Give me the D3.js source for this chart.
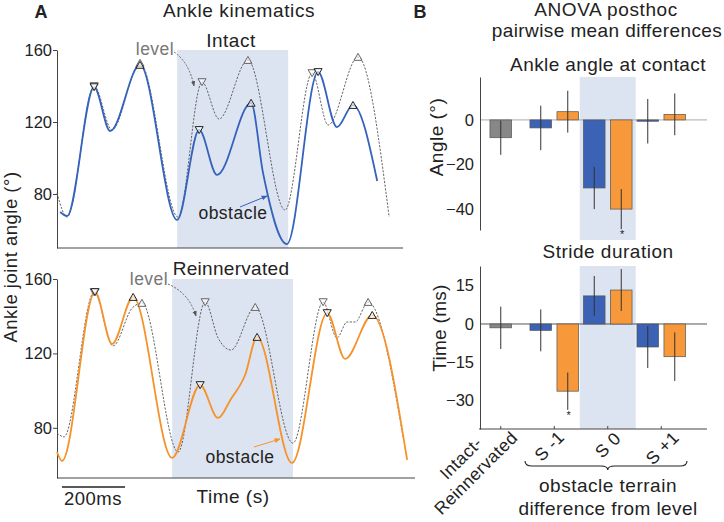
<!DOCTYPE html>
<html><head><meta charset="utf-8">
<script src="https://cdn.jsdelivr.net/npm/d3@7"></script>
<style>
body{margin:0;background:#fff}
svg{display:block;font-family:"Liberation Sans",Arial,Helvetica,sans-serif}
</style>
</head><body><svg id="c" width="724" height="522"></svg>
<script>
// ---------- DATA ----------
// Panel A: ankle joint angle (deg) vs time (ms)
const intactLevelTime  = [0, 32, 118, 175, 264, 385, 461, 515, 607, 725, 811, 862, 957, 1056];
const intactLevelAngle = [80.6, 67.2, 140, 115.6, 152.8, 67.2, 142.2, 121.7, 154.4, 71.1, 147.2, 118.3, 156.1, 67.2];
const intactObstTime   = [10, 32, 118, 169, 264, 382, 452, 509, 617, 655, 731, 830, 890, 941, 1018];
const intactObstAngle  = [70, 67.8, 139.4, 115, 151.7, 65.6, 115.6, 90.6, 130.6, 91.7, 52.2, 147.8, 117.2, 129.4, 87.2];
const reinLevelTime    = [0, 22, 118, 178, 239, 270, 385, 471, 512, 553, 630, 750, 846, 890, 922, 948, 989, 1100];
const reinLevelAngle   = [77.2, 75.1, 153, 124, 144.4, 147.1, 67, 147.6, 128.3, 121.8, 144.9, 71.8, 147.6, 128.3, 136.9, 136.9, 147.6, 75.1];
const reinObstTime     = [0, 16, 121, 175, 242, 366, 455, 512, 553, 598, 636, 747, 859, 916, 1002, 1113];
const reinObstAngle    = [67, 62.2, 153, 125.1, 150.3, 63.8, 103, 85.3, 95.5, 108.4, 128.8, 61.1, 141.7, 117, 140.6, 62.7];
// event markers (indices into series): contact (down triangle), peak (up triangle)
const intactLevelDown = [2, 6, 10],  intactLevelUp = [4, 8, 12];
const intactObstDown  = [2, 6, 11],  intactObstUp  = [4, 8, 13];
const reinLevelDown   = [2, 7, 12],  reinLevelUp   = [5, 10, 16];
const reinObstDown    = [2, 6, 12],  reinObstUp    = [4, 10, 14];
const intactObstacleWindow = [382, 735];
const reinObstacleWindow   = [366, 750];
const angleTicks = [80, 120, 160];

// Panel B: pairwise mean differences
const groups = ["Intact-Reinnervated", "S -1", "S 0", "S +1"];
const terrainGroups = ["S -1", "S 0", "S +1"];
const angleIntactRein = -8.0,  angleIntactReinErr = 7.7;
const angleIntactDiff = [-3.6, -30.6, -0.6], angleIntactErr = [10, 9.5, 10];
const angleReinDiff   = [3.7, -40.1, 2.5],   angleReinErr   = [9.4, 9, 9.4];
const angleSig        = [false, true, false];
const durIntactRein = -1.5, durIntactReinErr = 8.3;
const durIntactDiff = [-2.5, 11, -9],     durIntactErr = [8.2, 7.8, 8.2];
const durReinDiff   = [-26.3, 13.3, -12.8], durReinErr = [7.3, 8.2, 9.5];
const durSig        = [true, false, false];
const angleBarTicks = [0, -20, -40];
const durBarTicks   = [15, 0, -15, -30];

// ---------- STYLE ----------
const C = {
  blue: "#3462bd", orange: "#f5922a", grey: "#555",
  barBlue: "#3b62b5", barOrange: "#f7983a", barGrey: "#878787",
  shade: "#dde4f1", text: "#222", axis: "#444"
};
const svg = d3.select("#c");
const defs = svg.append("defs");
function arrowDef(id, col) {
  defs.append("marker").attr("id", id).attr("viewBox", "0 0 10 10")
    .attr("refX", 9).attr("refY", 5).attr("markerWidth", 6).attr("markerHeight", 6)
    .attr("orient", "auto")
    .append("path").attr("d", "M0,1 L10,5 L0,9 z").attr("fill", col);
}
arrowDef("arGrey", "#555"); arrowDef("arBlue", C.blue); arrowDef("arOrange", C.orange);

function txt(x, y, s, size, opts = {}) {
  const t = svg.append("text").attr("x", x).attr("y", y).text(s)
    .attr("font-size", size).attr("fill", opts.fill || C.text)
    .attr("text-anchor", opts.anchor || "middle")
    .attr("letter-spacing", opts.ls != null ? opts.ls : 0.5);
  if (opts.weight) t.attr("font-weight", opts.weight);
  if (opts.rotate != null) t.attr("transform", `rotate(${opts.rotate},${x},${y})`);
  return t;
}

// ---------- PANEL A ----------
function kinPanel(cfg) {
  const x = d3.scaleLinear().domain([0, cfg.tMax]).range([cfg.x0, cfg.x1]);
  const y = d3.scaleLinear().domain([cfg.vMin, 160]).range([cfg.yBot, cfg.yTop]);
  const g = svg.append("g");
  g.append("rect").attr("x", x(cfg.win[0])).attr("y", cfg.yTop)
    .attr("width", x(cfg.win[1]) - x(cfg.win[0])).attr("height", cfg.yBot - cfg.yTop)
    .attr("fill", C.shade);
  const ax = g.append("g").attr("transform", `translate(${cfg.x0},0)`)
    .call(d3.axisLeft(y).tickValues(angleTicks).tickSize(4).tickSizeOuter(0));
  ax.select(".domain").attr("stroke", C.axis);
  ax.selectAll(".tick line").attr("stroke", C.axis);
  ax.selectAll(".tick text").attr("font-size", 16.5).attr("fill", C.text)
    .attr("font-family", "Liberation Sans, Arial, sans-serif").attr("x", -5);
  g.append("line").attr("x1", cfg.x0).attr("x2", cfg.xAxisEnd)
    .attr("y1", cfg.yBot).attr("y2", cfg.yBot).attr("stroke", C.axis);
  const line = d3.line().x(d => x(d[0])).y(d => y(d[1])).curve(d3.curveMonotoneX);
  const lvl = cfg.levelT.map((t, i) => [t, cfg.levelA[i]]);
  const obs = cfg.obstT.map((t, i) => [t, cfg.obstA[i]]);
  g.append("path").attr("d", line(lvl)).attr("fill", "none")
    .attr("stroke", "#555").attr("stroke-width", 0.9).attr("stroke-dasharray", "2.2,1.4");
  g.append("path").attr("d", line(obs)).attr("fill", "none")
    .attr("stroke", cfg.color).attr("stroke-width", 1.8);
  const tri = d3.symbol().type(d3.symbolTriangle).size(28);
  function marks(pts, idx, down, col) {
    g.selectAll(null).data(idx).enter().append("path")
      .attr("d", tri)
      .attr("transform", i => `translate(${x(pts[i][0])},${y(pts[i][1]) + (down ? -1 : 1)}) rotate(${down ? 180 : 0})`)
      .attr("fill", "rgba(255,255,255,0.6)").attr("stroke", col).attr("stroke-width", 1);
  }
  marks(lvl, cfg.levelDown, true, "#666"); marks(lvl, cfg.levelUp, false, "#666");
  marks(obs, cfg.obstDown, true, "#222"); marks(obs, cfg.obstUp, false, "#222");
  return { x, y };
}

kinPanel({ x0: 57, x1: 403, xAxisEnd: 403, yTop: 50, yBot: 248, tMax: 1100, vMin: 50,
  win: intactObstacleWindow, color: C.blue,
  levelT: intactLevelTime, levelA: intactLevelAngle, obstT: intactObstTime, obstA: intactObstAngle,
  levelDown: intactLevelDown, levelUp: intactLevelUp, obstDown: intactObstDown, obstUp: intactObstUp });
kinPanel({ x0: 57, x1: 415, xAxisEnd: 415, yTop: 279, yBot: 478, tMax: 1138, vMin: 53,
  win: reinObstacleWindow, color: C.orange,
  levelT: reinLevelTime, levelA: reinLevelAngle, obstT: reinObstTime, obstA: reinObstAngle,
  levelDown: reinLevelDown, levelUp: reinLevelUp, obstDown: reinObstDown, obstUp: reinObstUp });

// annotations panel A
txt(41, 18, "A", 18, { weight: "bold", ls: 0 });
txt(239, 17, "Ankle kinematics", 19, { ls: 0.6 });
txt(231, 47, "Intact", 19);
txt(231, 275, "Reinnervated", 19, { ls: 0.3 });
txt(155, 55, "level", 17.5, { fill: "#777" });
txt(149, 285, "level", 17.5, { fill: "#777" });
txt(233, 219, "obstacle", 17.5);
txt(240, 463, "obstacle", 17.5);
svg.append("path").attr("d", "M174,52 Q189,62 194,86").attr("fill", "none")
  .attr("stroke", "#555").attr("stroke-width", 0.9).attr("stroke-dasharray", "2,1.5")
  .attr("marker-end", "url(#arGrey)");
svg.append("path").attr("d", "M168,284 Q189,293 196,316").attr("fill", "none")
  .attr("stroke", "#555").attr("stroke-width", 0.9).attr("stroke-dasharray", "2,1.5")
  .attr("marker-end", "url(#arGrey)");
svg.append("line").attr("x1", 240).attr("y1", 207).attr("x2", 267).attr("y2", 196)
  .attr("stroke", C.blue).attr("stroke-width", 1).attr("marker-end", "url(#arBlue)");
svg.append("line").attr("x1", 254).attr("y1", 447).attr("x2", 280).attr("y2", 439)
  .attr("stroke", C.orange).attr("stroke-width", 1).attr("marker-end", "url(#arOrange)");
txt(17, 257, "Ankle joint angle (°)", 18.5, { rotate: -90 });
txt(233, 503, "Time (s)", 19);
svg.append("line").attr("x1", 62).attr("x2", 125).attr("y1", 487).attr("y2", 487)
  .attr("stroke", "#222").attr("stroke-width", 1.3);
txt(93, 505, "200ms", 18.5);

// ---------- PANEL B ----------
const xg = d3.scaleBand().domain(groups).range([474, 688]).paddingInner(0).paddingOuter(0);
const xs = d3.scaleBand().domain(["intact", "rein"]).range([-27, 27]).paddingInner(0.2).paddingOuter(0.1);
const gc = g => xg(g) + xg.bandwidth() / 2;
const bw = xs.bandwidth();

function barPanel(cfg) {
  const y = d3.scaleLinear().domain(cfg.domain).range([cfg.yBot, cfg.yTop]);
  const g = svg.append("g");
  g.append("rect").attr("x", gc("S 0") - 28).attr("y", cfg.yTop)
    .attr("width", 56).attr("height", cfg.shadeBot - cfg.yTop).attr("fill", C.shade);
  g.append("line").attr("x1", 480).attr("x2", 707).attr("y1", y(0)).attr("y2", y(0))
    .attr("stroke", cfg.zeroCol).attr("stroke-width", 1);
  const ax = g.append("g").attr("transform", "translate(480,0)")
    .call(d3.axisLeft(y).tickValues(cfg.ticks).tickSize(0).tickSizeOuter(0).tickPadding(6));
  ax.select(".domain").attr("stroke", C.axis);
  ax.selectAll(".tick text").attr("font-size", 16.5).attr("fill", C.text)
    .attr("font-family", "Liberation Sans, Arial, sans-serif");
  const bars = [{ g: groups[0], off: 0, v: cfg.ir, e: cfg.irErr, col: C.barGrey, sig: false }];
  terrainGroups.forEach((tg, i) => {
    bars.push({ g: tg, off: xs("intact") + bw / 2, v: cfg.intact[i], e: cfg.intactErr[i], col: C.barBlue, sig: false });
    bars.push({ g: tg, off: xs("rein") + bw / 2, v: cfg.rein[i], e: cfg.reinErr[i], col: C.barOrange, sig: cfg.sig[i] });
  });
  bars.forEach(b => {
    const cx = gc(b.g) + b.off;
    g.append("rect").attr("x", cx - bw / 2).attr("width", bw)
      .attr("y", Math.min(y(0), y(b.v))).attr("height", Math.max(1, Math.abs(y(b.v) - y(0))))
      .attr("fill", b.col).attr("stroke", "#555").attr("stroke-width", 0.7);
    g.append("line").attr("x1", cx).attr("x2", cx).attr("y1", y(b.v + b.e)).attr("y2", y(b.v - b.e))
      .attr("stroke", "#333").attr("stroke-width", 1);
    if (b.sig) g.append("text").attr("x", cx + 1).attr("y", y(b.v - b.e) + 9).text("*")
      .attr("font-size", 11).attr("text-anchor", "middle").attr("fill", "#222");
  });
  return y;
}

barPanel({ domain: [-49.5, 19.3], yTop: 77, yBot: 230, shadeBot: 240, ticks: angleBarTicks, zeroCol: "#aaa",
  ir: angleIntactRein, irErr: angleIntactReinErr, intact: angleIntactDiff, intactErr: angleIntactErr,
  rein: angleReinDiff, reinErr: angleReinErr, sig: angleSig });
barPanel({ domain: [-41.1, 22.7], yTop: 266, yBot: 429, shadeBot: 429, ticks: durBarTicks, zeroCol: "#555",
  ir: durIntactRein, irErr: durIntactReinErr, intact: durIntactDiff, intactErr: durIntactErr,
  rein: durReinDiff, reinErr: durReinErr, sig: durSig });

// bottom x axis of duration panel
svg.append("line").attr("x1", 479).attr("x2", 707).attr("y1", 429).attr("y2", 429).attr("stroke", C.axis);
const xa = svg.append("g").attr("transform", "translate(0,429)")
  .call(d3.axisBottom(xg).tickSize(-3).tickSizeOuter(0).tickFormat(""));
xa.select(".domain").remove();
xa.selectAll(".tick line").attr("stroke", C.axis);

function rotLabel(cx, cy, s) {
  svg.append("text").attr("transform", `translate(${cx},${cy}) rotate(-45)`)
    .attr("text-anchor", "middle").attr("dy", "0.35em").attr("font-size", 17.5)
    .attr("letter-spacing", 0.4).attr("fill", C.text).text(s);
}
rotLabel(gc(groups[0]) - 40, 458, "Intact-");
rotLabel(gc(groups[0]) - 25, 473, "Reinnervated");
rotLabel(gc("S -1") - 5, 446, "S -1");
rotLabel(gc("S 0") + 0, 445, "S 0");
rotLabel(gc("S +1") + 1, 448, "S +1");

// brace
const bc = gc("S 0");
svg.append("path")
  .attr("d", `M525,461 Q525,466 532,466 L${bc - 7},466 Q${bc},466 ${bc},470 Q${bc},466 ${bc + 7},466 L680,466 Q687,466 687,461`)
  .attr("fill", "none").attr("stroke", "#222").attr("stroke-width", 1.1);

txt(420, 18, "B", 18, { weight: "bold", ls: 0 });
txt(606, 16, "ANOVA posthoc", 19, { ls: 0.6 });
txt(607, 37, "pairwise mean differences", 19, { ls: 0.4 });
txt(608, 71, "Ankle angle at contact", 19, { ls: 0.4 });
txt(608, 258, "Stride duration", 19, { ls: 0.5 });
txt(443, 137, "Angle (°)", 19, { rotate: -90 });
txt(446, 328, "Time  (ms)", 19, { rotate: -90, ls: 0.3 });
txt(608, 492, "obstacle terrain", 19, { ls: 0.5 });
txt(608, 515, "difference from level", 19, { ls: 0.4 });
</script></body></html>
